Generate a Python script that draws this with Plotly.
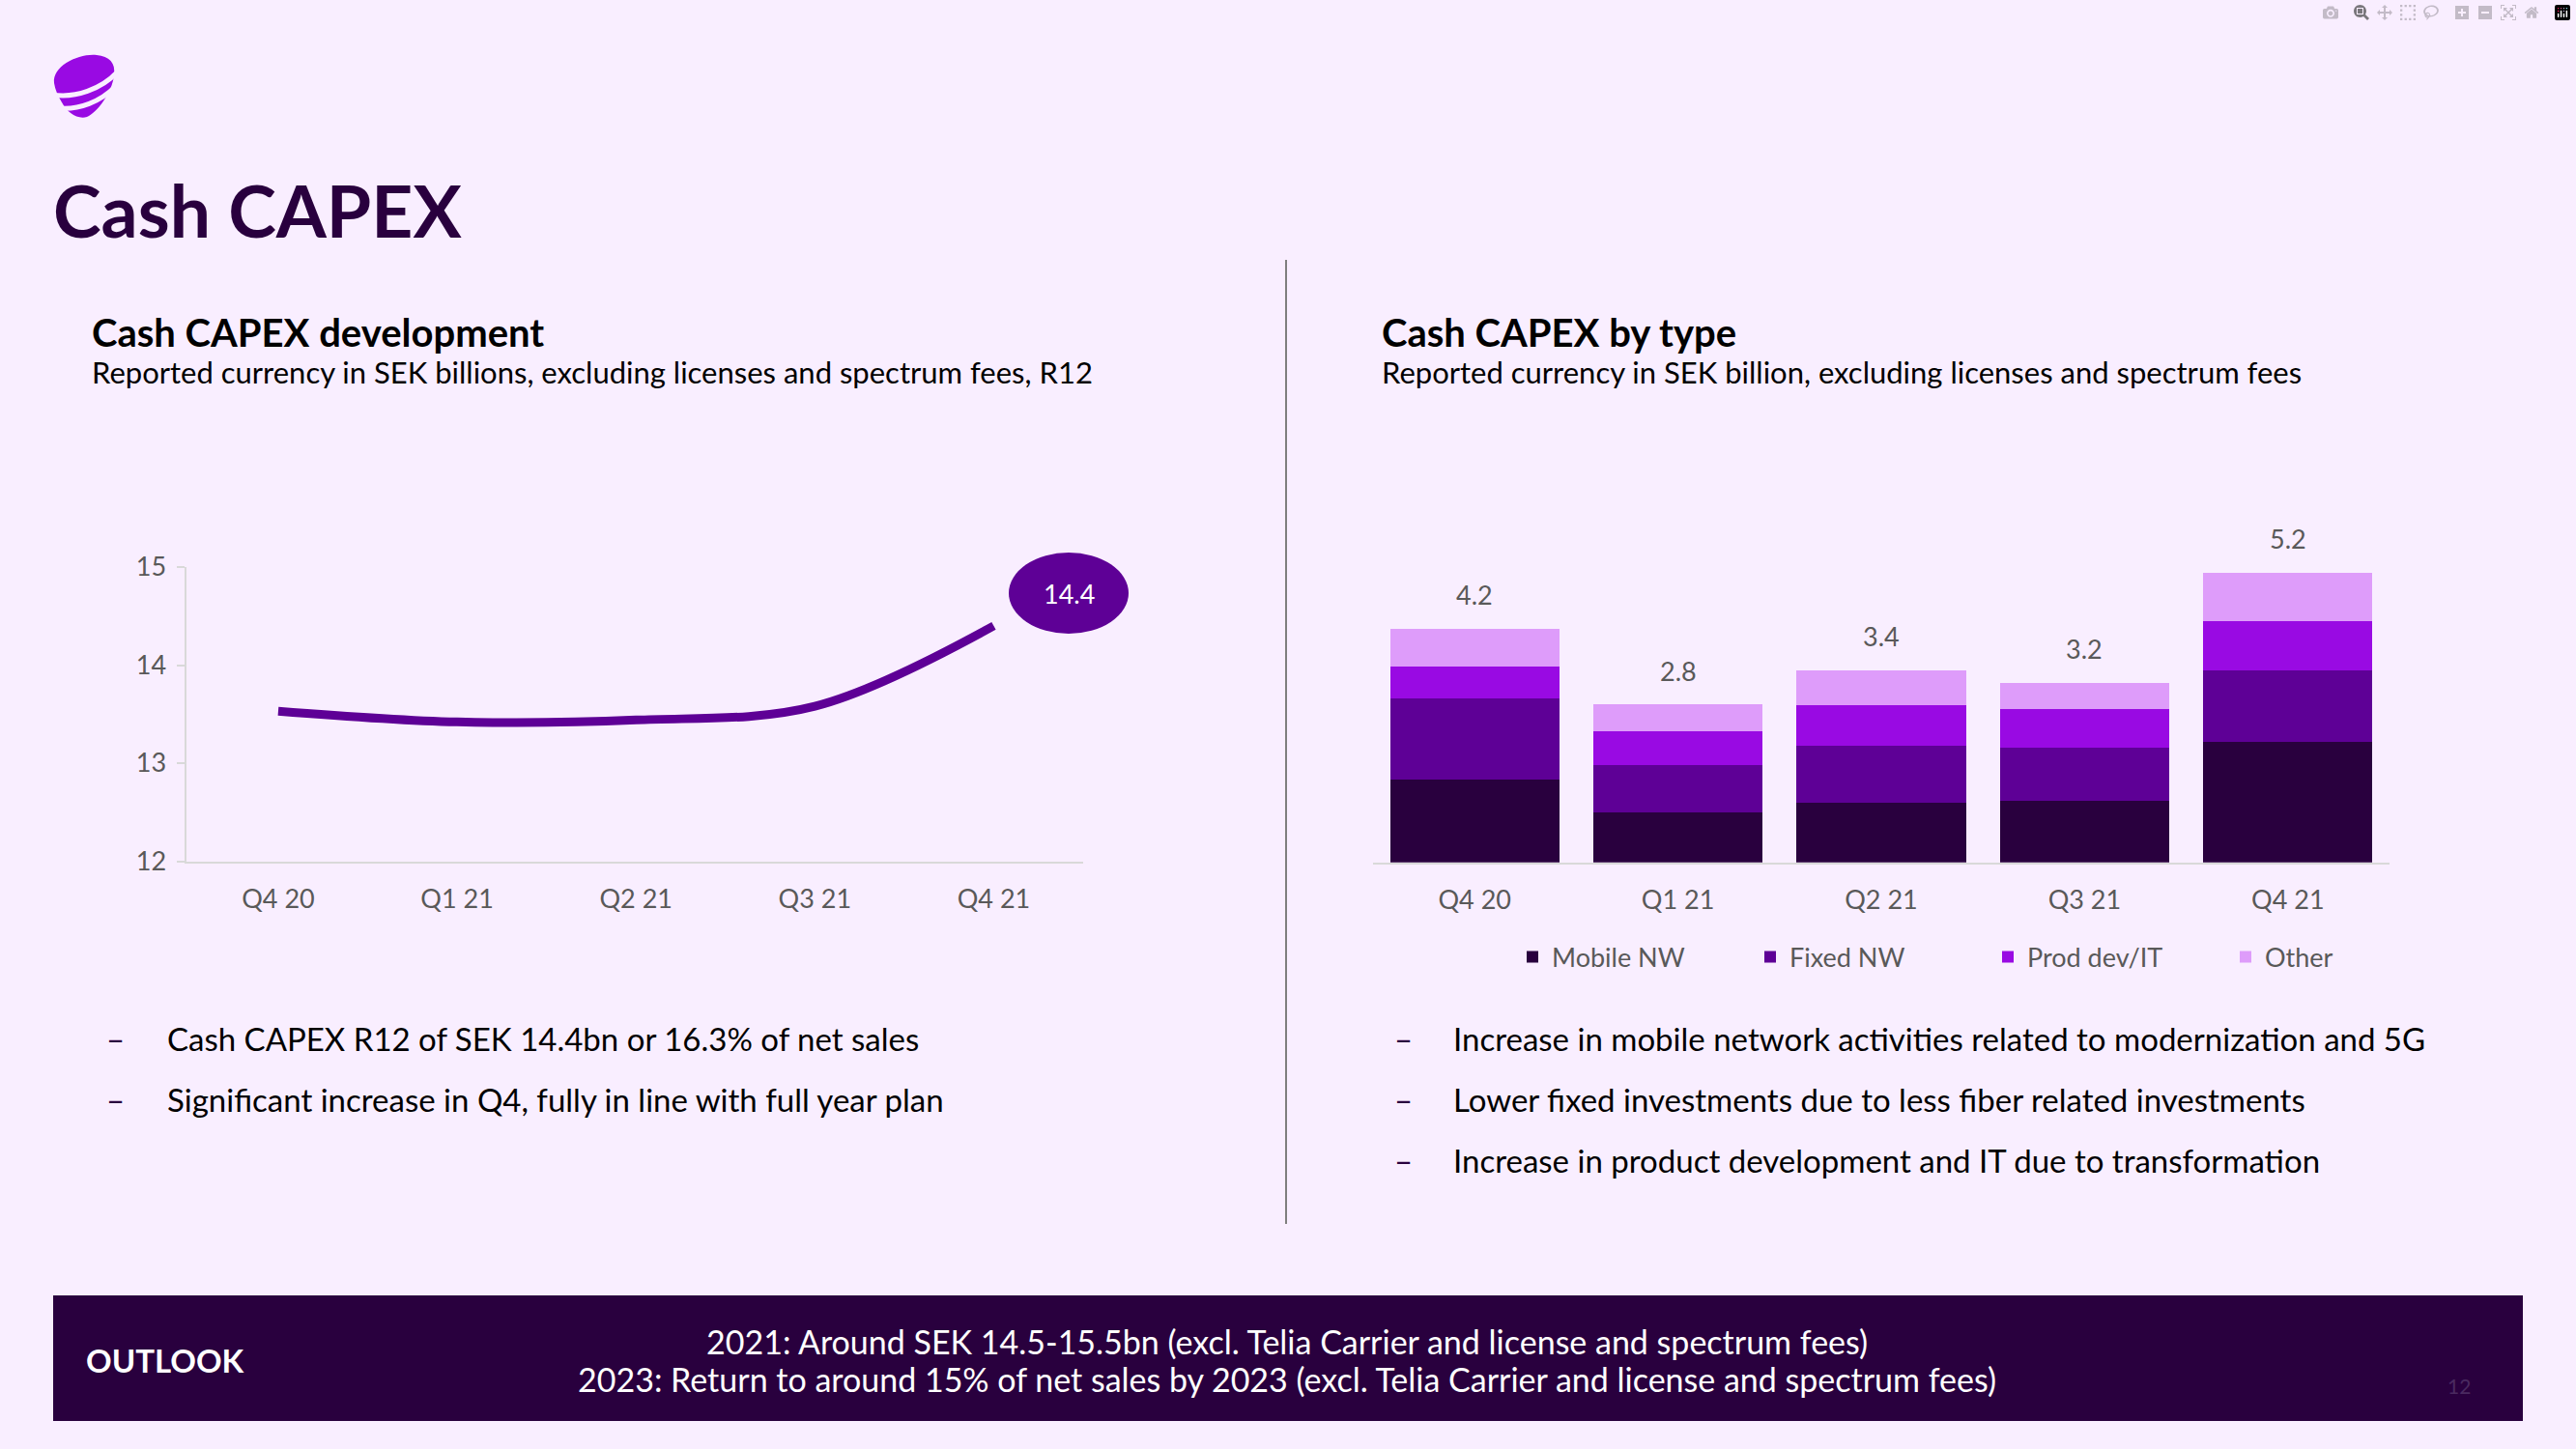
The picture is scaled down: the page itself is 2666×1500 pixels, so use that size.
import plotly.graph_objects as go

W, H = 2666, 1500


def px(x):
    return x / W


def py(y):
    return 1 - y / H


# ---------------- data ----------------
quarters = ["Q4 20", "Q1 21", "Q2 21", "Q3 21", "Q4 21"]
capex_r12 = [13.53, 13.42, 13.44, 13.58, 14.4]
y_ticks = [12, 13, 14, 15]

mobile_nw = [1.49, 0.90, 1.08, 1.11, 2.17]
fixed_nw = [1.46, 0.85, 1.02, 0.95, 1.28]
prod_dev_it = [0.57, 0.60, 0.72, 0.69, 0.89]
other = [0.68, 0.49, 0.64, 0.48, 0.87]
total_labels = ["4.2", "2.8", "3.4", "3.2", "5.2"]
last_value_label = "14.4"

series_names = ["Mobile NW", "Fixed NW", "Prod dev/IT", "Other"]
series_values = [mobile_nw, fixed_nw, prod_dev_it, other]
series_colors = ["#29003E", "#5E0096", "#990AE3", "#DE9CFA"]

left_bullets = [
    "Cash CAPEX R12 of SEK 14.4bn or 16.3% of net sales",
    "Significant increase in Q4, fully in line with full year plan",
]
right_bullets = [
    "Increase in mobile network activities related to modernization and 5G",
    "Lower fixed investments due to less fiber related investments",
    "Increase in product development and IT due to transformation",
]
outlook_lines = [
    "2021: Around SEK 14.5-15.5bn (excl. Telia Carrier and license and spectrum fees)",
    "2023: Return to around 15% of net sales by 2023 (excl. Telia Carrier and license and spectrum fees)",
]

# ---------------- styles ----------------
FONT = "Lato"
BG = "#F9EEFF"
DEEP = "#29003E"
LINE_C = "#5E0096"
GREY_TXT = "#595959"
AXIS_C = "#D9D9D9"

fig = go.Figure()

fig.add_trace(go.Scatter(
    x=quarters, y=capex_r12, mode="lines",
    line=dict(color=LINE_C, width=9, shape="spline", smoothing=1.0),
    xaxis="x", yaxis="y", showlegend=False, hoverinfo="skip",
))

for name, vals, col in zip(series_names, series_values, series_colors):
    fig.add_trace(go.Bar(
        x=quarters, y=vals, name=name, marker=dict(color=col, line=dict(width=0)),
        xaxis="x2", yaxis="y2",
    ))

totals = [sum(v) for v in zip(*series_values)]

annotations = []


def txt(x, y, text, size, color="#000000", weight=400, xanchor="left", yanchor="middle", **kw):
    annotations.append(dict(
        x=px(x), y=py(y), xref="paper", yref="paper", text=text, showarrow=False,
        xanchor=xanchor, yanchor=yanchor,
        font=dict(family=FONT, size=size, color=color, weight=weight), **kw))


# page title
txt(53, 217, "Cash CAPEX", 75, DEEP, 700)
# chart titles
txt(93, 344, "Cash CAPEX development", 40, "#000000", 700)
txt(93, 385, "Reported currency in SEK billions, excluding licenses and spectrum fees, R12", 31)
txt(1428, 344, "Cash CAPEX by type", 40, "#000000", 700)
txt(1428, 385, "Reported currency in SEK billion, excluding licenses and spectrum fees", 31)

# bullets
for i, b in enumerate(left_bullets):
    y = 1075 + i * 63
    txt(108, y, "–", 33, DEEP)
    txt(171, y, b, 33)
for i, b in enumerate(right_bullets):
    y = 1075 + i * 63
    txt(1441, y, "–", 33, DEEP)
    txt(1502, y, b, 33)

# outlook
txt(87, 1408, "OUTLOOK", 33, "#FFFFFF", 700)
for i, line in enumerate(outlook_lines):
    txt(1332, 1388 + i * 39, line, 34, "#FFFFFF", xanchor="center")
txt(2545, 1434, "12", 21, "#4A2A60", xanchor="center")

# bubble label
txt(1106, 614, last_value_label, 27, "#FFFFFF", xanchor="center")

# stacked totals
for q, t, lab in zip(quarters, totals, total_labels):
    annotations.append(dict(
        x=q, y=t, xref="x2", yref="y2", text=lab, showarrow=False,
        yshift=35, xanchor="center", yanchor="middle",
        font=dict(family=FONT, size=27, color=GREY_TXT)))


def P(x, y):
    return f"{px(x):.5f},{py(y):.5f}"


shapes = []
# outlook band
shapes.append(dict(type="rect", xref="paper", yref="paper",
                   x0=px(55), x1=px(2611), y0=py(1341), y1=py(1471),
                   fillcolor=DEEP, line=dict(width=0), layer="below"))
# divider
shapes.append(dict(type="line", xref="paper", yref="paper",
                   x0=px(1331), x1=px(1331), y0=py(269), y1=py(1267),
                   line=dict(color="#7F7F7F", width=2)))
# bubble
shapes.append(dict(type="circle", xref="paper", yref="paper",
                   x0=px(1044), x1=px(1168), y0=py(656), y1=py(572),
                   fillcolor=LINE_C, line=dict(width=0), layer="above"))
# logo
logo = (f"M {P(56,86)} C {P(54,68)} {P(82,55)} {P(100,57)} "
        f"C {P(113,58)} {P(120,65)} {P(118,78)} "
        f"C {P(116,96)} {P(101,116)} {P(90,121)} "
        f"C {P(80,124)} {P(69,116)} {P(64,106)} "
        f"C {P(60,99)} {P(57,93)} {P(56,86)} Z")
shapes.append(dict(type="path", xref="paper", yref="paper", path=logo,
                   fillcolor="#990AE3", line=dict(width=0)))
shapes.append(dict(type="path", xref="paper", yref="paper",
                   path=f"M {P(54,98)} C {P(78,102)} {P(105,92)} {P(121,75)}",
                   line=dict(color=BG, width=5)))
shapes.append(dict(type="path", xref="paper", yref="paper",
                   path=f"M {P(61,112)} C {P(82,114)} {P(104,105)} {P(119,90)}",
                   line=dict(color=BG, width=5)))

fig.update_layout(
    width=W, height=H, margin=dict(l=0, r=0, t=0, b=0, pad=0, autoexpand=False),
    paper_bgcolor=BG, plot_bgcolor=BG,
    font=dict(family=FONT, color=GREY_TXT),
    barmode="stack", bargap=0.168,
    showlegend=True,
    legend=dict(orientation="h", x=px(1566), xanchor="left", y=py(991), yanchor="middle",
                font=dict(family=FONT, size=27, color=GREY_TXT),
                entrywidth=201, entrywidthmode="pixels",
                bgcolor="rgba(0,0,0,0)", traceorder="normal"),
    xaxis=dict(domain=[px(192.6), px(1121)], anchor="y", type="category",
               range=[-0.515, 4.5], showline=True, linecolor=AXIS_C, linewidth=2,
               ticks="", showgrid=False, zeroline=False, automargin=False,
               tickfont=dict(family=FONT, size=27, color=GREY_TXT), ticklabelstandoff=14),
    yaxis=dict(domain=[py(891.5), py(587)], anchor="x", range=[12, 15],
               tickvals=y_ticks, showline=True, linecolor=AXIS_C, linewidth=2,
               ticks="outside", ticklen=8, tickcolor=AXIS_C, tickwidth=2,
               showgrid=False, zeroline=False, automargin=False,
               tickfont=dict(family=FONT, size=27, color=GREY_TXT), ticklabelstandoff=5),
    xaxis2=dict(domain=[px(1421), px(2473)], anchor="y2", type="category",
                range=[-0.5, 4.5], showline=True, linecolor=AXIS_C, linewidth=2,
                ticks="", showgrid=False, zeroline=False, automargin=False,
                tickfont=dict(family=FONT, size=27, color=GREY_TXT), ticklabelstandoff=14),
    yaxis2=dict(domain=[py(892.8), py(892.8 - 6 * 57.6)], anchor="x2", range=[0, 6],
                visible=False, showgrid=False, zeroline=False, automargin=False),
    annotations=annotations,
    shapes=shapes,
)

fig.write_html("out.html", post_script="document.body.style.margin='0';document.body.style.overflow='hidden';")
